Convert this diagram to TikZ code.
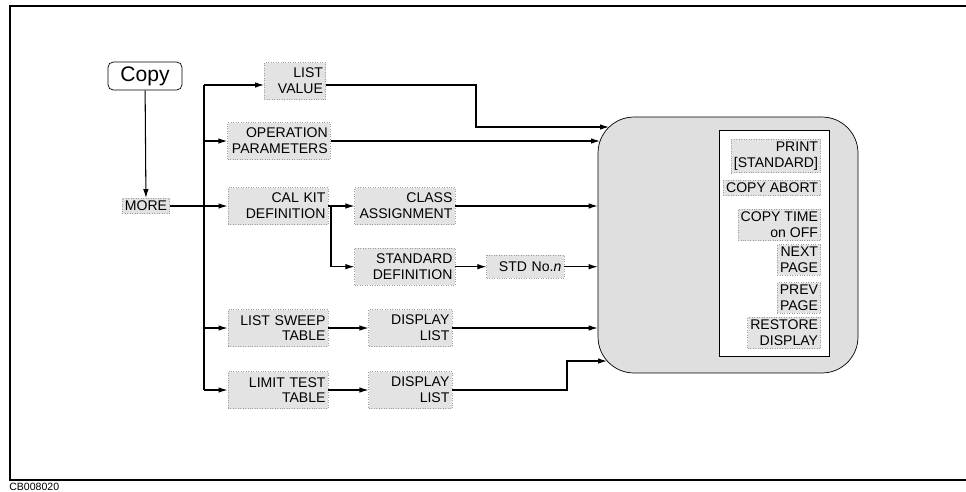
\documentclass[tikz,border=0pt]{standalone}
\usepackage{fontspec}
\setmainfont{Liberation Sans}
\usetikzlibrary{positioning,arrows.meta}

\newcommand\keyfont{\fontsize{8}{9}\selectfont}

\begin{document}
\begin{tikzpicture}[
  x=0.02cm, y=-0.02cm,
  keybox/.style={fill=gray!22, draw=gray!75, densely dotted, align=right, font=\keyfont, inner sep=1.5pt, text width=#1, minimum height=0.74cm},
  keybox/.default=1.9cm,
  softkey/.style={fill=gray!22, draw=gray!75, densely dotted, align=right, font=\keyfont, inner sep=1.5pt, anchor=east},
  hardkey/.style={draw, rounded corners=3pt, fill=white, font=\fontsize{12}{14}\selectfont, minimum width=1.48cm, minimum height=0.56cm, inner sep=1pt},
  menu/.style={draw, fill=gray!25, rounded corners=0.72cm, minimum width=5.2cm, minimum height=5.12cm, inner sep=0pt},
  panel/.style={draw, fill=white, minimum width=2.2cm, minimum height=4.52cm, inner sep=0pt},
  arr/.style={-{Latex[length=1.8mm,width=1.1mm]}, line width=0.6pt},
  wire/.style={line width=0.6pt}
]
\useasboundingbox (0,0) rectangle (966,491);

% frame and figure number
\draw[line width=0.9pt] (975,6) -- (10,6) -- (10,480) -- (975,480);
\node[font=\fontsize{6}{7}\selectfont, anchor=west, inner sep=0pt] (figid) at (9,487) {CB008020};

% hardkey and first softkeys
\node[hardkey] (copy) at (145,76) {Copy};
\node[softkey, anchor=center] (more) at (146,206) {MORE};

\node[keybox=1.12cm] (lstval) at (295,81) {LIST\\VALUE};
\node[keybox=1.95cm] (oppar) at (279,141) {OPERATION\\PARAMETERS};
\node[keybox] (calkit) at (278,206) {CAL KIT\\DEFINITION};
\node[keybox] (lsweep) at (278,328) {LIST SWEEP\\TABLE};
\node[keybox] (limtst) at (278,390) {LIMIT TEST\\TABLE};

% second level
\node[keybox, right=0.52cm of calkit] (clsasg) {CLASS\\ASSIGNMENT};
\node[keybox, below=0.46cm of clsasg] (stddef) {STANDARD\\DEFINITION};
\node[keybox=1.44cm, minimum height=0.46cm, right=0.62cm of stddef] (stdn) {STD No.\textit{n}};
\node[keybox=1.56cm, right=0.8cm of lsweep] (dsp1) {DISPLAY\\LIST};
\node[keybox=1.56cm, right=0.8cm of limtst] (dsp2) {DISPLAY\\LIST};

% copy menu
\node[menu] (menu) at (728,245) {};
\node[panel] (panel) at (774,243) {};
\node[softkey] (sk1) at (821,156) {PRINT\\{[STANDARD]}};
\node[softkey] (sk2) at (821,188) {COPY ABORT};
\node[softkey] (sk3) at (821,225) {COPY TIME\\on OFF};
\node[softkey] (sk4) at (821,260) {NEXT\\PAGE};
\node[softkey] (sk5) at (821,298) {PREV\\PAGE};
\node[softkey] (sk6) at (821,333) {RESTORE\\DISPLAY};

\coordinate (bustop) at (204,85);
\coordinate (busbot) at (204,390);
\coordinate (jog1) at (476,127);
\coordinate (in1) at (609,127);
\coordinate (in2) at (600,141);
\coordinate (calsplit) at (331,206);
\coordinate (jog2) at (567,361);
\coordinate (in6) at (607,361);

\draw[arr] (copy) -- (more);
\draw[arr] (more) -- (calkit);
\draw[wire] (bustop) -- (busbot);
\draw[arr] (bustop) -- (bustop -| lstval.west);
\draw[arr] (oppar.west -| bustop) -- (oppar.west);
\draw[arr] (lsweep.west -| bustop) -- (lsweep.west);
\draw[arr] (busbot) -- (limtst.west);

\draw[arr] (lstval.east |- bustop) -| (jog1) -- (in1);
\draw[arr] (oppar.east) -- (in2);
\draw[arr] (calkit) -- (clsasg);
\draw[arr] (clsasg.east) -- (clsasg.east -| menu.west);
\draw[arr] (calsplit) |- (stddef);
\draw[arr] (stddef) -- (stdn);
\draw[arr] (stdn.east) -- (stdn.east -| menu.west);
\draw[arr] (lsweep) -- (dsp1);
\draw[arr] (dsp1.east) -- (dsp1.east -| menu.west);
\draw[arr] (limtst) -- (dsp2);
\draw[arr] (dsp2.east) -| (jog2) -- (in6);

\end{tikzpicture}
\end{document}
